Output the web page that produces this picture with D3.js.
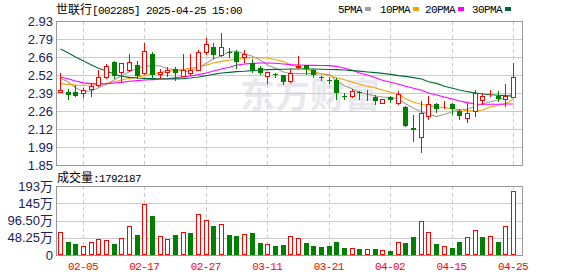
<!DOCTYPE html>
<html>
<head>
<meta charset="utf-8">
<script src="https://cdn.jsdelivr.net/npm/d3@7"></script>
<style>
  body { margin: 0; background: #fff; }
  svg { display: block; }
</style>
</head>
<body>
<svg id="chart" width="578" height="276"></svg>
<script>
//======
// Data
//======

const dates = ["01-23","01-24","01-27","02-05","02-06","02-07","02-10","02-11","02-12","02-13",
  "02-14","02-17","02-18","02-19","02-20","02-21","02-24","02-25","02-26","02-27",
  "02-28","03-03","03-04","03-05","03-06","03-07","03-10","03-11","03-12","03-13",
  "03-14","03-17","03-18","03-19","03-20","03-21","03-24","03-25","03-26","03-27",
  "03-28","03-31","04-01","04-02","04-03","04-07","04-08","04-09","04-10","04-11",
  "04-14","04-15","04-16","04-17","04-18","04-21","04-22","04-23","04-24","04-25"];

const open = [2.40,2.396,2.396,2.392,2.421,2.453,2.511,2.62,2.545,2.56,
  2.597,2.541,2.684,2.535,2.548,2.57,2.52,2.541,2.565,2.701,
  2.734,2.677,2.70,2.694,2.66,2.615,2.575,2.515,2.53,2.523,
  2.478,2.585,2.597,2.56,2.51,2.49,2.486,2.37,2.366,2.395,
  2.392,2.359,2.317,2.362,2.317,2.287,2.13,2.057,2.217,2.305,
  2.285,2.305,2.255,2.205,2.255,2.337,2.38,2.366,2.342,2.362];

const high = [2.54,2.42,2.45,2.429,2.466,2.56,2.607,2.627,2.615,2.684,
  2.627,2.764,2.699,2.57,2.585,2.585,2.684,2.684,2.709,2.801,
  2.764,2.838,2.727,2.714,2.709,2.645,2.595,2.545,2.54,2.525,
  2.57,2.67,2.60,2.57,2.52,2.51,2.503,2.39,2.42,2.404,
  2.41,2.374,2.342,2.37,2.404,2.29,2.223,2.329,2.366,2.312,
  2.33,2.312,2.267,2.312,2.411,2.392,2.411,2.404,2.461,2.615];

const low = [2.40,2.342,2.37,2.359,2.366,2.44,2.50,2.50,2.478,2.555,
  2.50,2.53,2.513,2.50,2.515,2.49,2.515,2.528,2.56,2.684,
  2.652,2.67,2.66,2.578,2.62,2.548,2.53,2.466,2.51,2.459,
  2.475,2.58,2.535,2.508,2.49,2.466,2.342,2.345,2.36,2.342,
  2.34,2.305,2.317,2.325,2.305,2.14,2.031,1.95,2.198,2.247,
  2.28,2.23,2.198,2.173,2.217,2.305,2.366,2.329,2.292,2.36];

const close = [2.41,2.377,2.37,2.416,2.441,2.511,2.595,2.515,2.615,2.62,
  2.515,2.707,2.528,2.545,2.565,2.54,2.565,2.56,2.694,2.759,
  2.677,2.734,2.695,2.622,2.684,2.565,2.54,2.545,2.525,2.474,
  2.541,2.592,2.57,2.523,2.505,2.487,2.387,2.366,2.404,2.388,
  2.392,2.33,2.342,2.337,2.379,2.143,2.113,2.243,2.305,2.267,
  2.288,2.267,2.217,2.243,2.392,2.366,2.385,2.342,2.366,2.511];

// 成交量, 万手
const volume = [63.5,35.5,31.9,26.3,35.5,45.9,41.1,29.9,48.7,82.2,
  55.1,141.8,108.2,54.2,45.9,55.1,65.4,61.5,113.8,97,
  80.3,87.8,55.1,52.3,57.9,61.5,33.6,31.9,24.3,27.1,
  52.3,48.7,33.6,24.3,21.5,24.3,36,18.3,18.3,15.9,
  15.5,17.9,15.1,10.3,35,33.6,49.5,96.2,63,29.9,
  26.3,20.7,35.5,51.5,71,51.5,54.2,35.5,82.2,179.2187];

const ma5 = [2.50,2.47,2.43,2.40,2.405,2.43,2.455,2.49,2.52,2.55,
  2.575,2.59,2.597,2.592,2.572,2.565,2.55,2.555,2.58,2.615,
  2.645,2.67,2.70,2.705,2.685,2.665,2.635,2.60,2.575,2.548,
  2.538,2.535,2.535,2.535,2.533,2.528,2.48,2.445,2.42,2.395,
  2.38,2.368,2.36,2.355,2.345,2.31,2.275,2.25,2.235,2.213,
  2.23,2.25,2.265,2.27,2.29,2.31,2.325,2.34,2.36,2.39];

const ma10 = [2.46,2.455,2.45,2.448,2.45,2.455,2.462,2.475,2.488,2.50,
  2.51,2.52,2.535,2.545,2.552,2.56,2.567,2.575,2.585,2.60,
  2.615,2.627,2.637,2.645,2.652,2.655,2.655,2.652,2.64,2.627,
  2.60,2.585,2.568,2.55,2.535,2.52,2.505,2.49,2.47,2.455,
  2.44,2.428,2.412,2.396,2.382,2.348,2.32,2.305,2.295,2.287,
  2.28,2.272,2.265,2.258,2.255,2.262,2.285,2.298,2.31,2.345];

const ma20 = [2.51,2.495,2.48,2.466,2.46,2.458,2.46,2.465,2.47,2.478,
  2.483,2.488,2.49,2.493,2.497,2.505,2.51,2.518,2.528,2.54,
  2.555,2.57,2.583,2.60,2.607,2.612,2.615,2.615,2.613,2.608,
  2.603,2.60,2.598,2.597,2.596,2.595,2.59,2.575,2.56,2.54,
  2.525,2.505,2.485,2.47,2.455,2.44,2.425,2.41,2.39,2.375,
  2.36,2.345,2.33,2.318,2.308,2.306,2.306,2.306,2.307,2.307];

const ma30 = [2.72,2.69,2.66,2.63,2.60,2.575,2.555,2.53,2.515,2.507,
  2.502,2.50,2.498,2.497,2.496,2.496,2.498,2.502,2.51,2.52,
  2.53,2.54,2.545,2.55,2.553,2.558,2.562,2.565,2.567,2.568,
  2.57,2.57,2.57,2.57,2.568,2.566,2.565,2.562,2.558,2.554,
  2.548,2.543,2.537,2.53,2.52,2.515,2.505,2.495,2.475,2.462,
  2.44,2.425,2.412,2.40,2.39,2.382,2.377,2.373,2.37,2.366];

const priceTickLabels = ["1.85","1.99","2.12","2.26","2.39","2.52","2.66","2.79","2.93"];
const volTickValues = [0, 48.25, 96.5, 144.75, 193];
const volTickLabels = ["0","48.25万","96.50万","145万","193万"];
const dateTicks = ["02-05","02-17","02-27","03-11","03-21","04-02","04-15","04-25"];

const maNames = ["5PMA","10PMA","20PMA","30PMA"];
const maSeries = [ma5, ma10, ma20, ma30];

//========
// Layout
//========

const W = 578, H = 276;
const left = 56, right = 522;
const pTop = 21, pBottom = 165;
const vTop = 186, vBottom = 255;
const step = 7.68;

const RED = "#ff0000", GREEN = "#008000";
const maColors = ["#a0a0a0", "#f5a300", "#ff00ff", "#006b35"];
const gridColor = "#cccccc", borderColor = "#999999";
const labelColor = "#20205a";

const svg = d3.select("#chart");

const x = d3.scaleBand()
  .domain(dates)
  .range([left, left + step * dates.length]);
const cx = d => Math.round(x(d) + x.bandwidth() / 2);

const y = d3.scaleLinear().domain([1.85, 2.93]).range([pBottom, pTop]);
const yv = d3.scaleLinear().domain([0, 193]).range([vBottom, vTop]);

const priceTickValues = priceTickLabels.map((_, k) => 1.85 + k * (2.93 - 1.85) / (priceTickLabels.length - 1));

// watermark
svg.append("text")
  .attr("x", 240).attr("y", 108)
  .attr("fill", "#e8e8ee")
  .style("font-family", "'Noto Sans CJK SC'")
  .style("font-size", "35px")
  .style("font-weight", "bold")
  .text("东方财富");

// grid: horizontal lines
function hGrid(vals, scale) {
  svg.append("g").selectAll("line")
    .data(vals)
    .join("line")
    .attr("x1", left).attr("x2", right)
    .attr("y1", d => Math.round(scale(d)) + 0.5)
    .attr("y2", d => Math.round(scale(d)) + 0.5)
    .attr("stroke", gridColor);
}
hGrid(priceTickValues.slice(1, -1), y);
hGrid(volTickValues.slice(1, -1), yv);

// grid: vertical dashed lines in both panels
[[pTop, pBottom], [vTop, vBottom]].forEach(([t, b]) => {
  svg.append("g").selectAll("line")
    .data(dateTicks)
    .join("line")
    .attr("x1", d => cx(d) + 0.5).attr("x2", d => cx(d) + 0.5)
    .attr("y1", t).attr("y2", b)
    .attr("stroke", gridColor)
    .attr("stroke-dasharray", "4,3");
});

// MA lines
svg.append("clipPath").attr("id", "pclip")
  .append("rect").attr("x", left).attr("y", pTop).attr("width", right - left).attr("height", pBottom - pTop);

const line = d3.line()
  .x((v, i) => cx(dates[i]) + 0.5)
  .y(v => y(v));

svg.append("g").attr("clip-path", "url(#pclip)")
  .selectAll("path")
  .data(maSeries)
  .join("path")
  .attr("d", line)
  .attr("fill", "none")
  .attr("stroke", (d, i) => maColors[i])
  .attr("stroke-width", 1.1);

// candles
const candles = dates.map((d, i) => ({
  d, o: open[i], h: high[i], l: low[i], c: close[i], v: volume[i],
  up: close[i] > open[i] || (close[i] === open[i] && i > 0 && close[i] >= close[i - 1]),
  volUp: i === 0 ? close[i] >= open[i] : close[i] >= close[i - 1]
}));

const cg = svg.append("g");
cg.selectAll("line.wick")
  .data(candles)
  .join("line")
  .attr("class", "wick")
  .attr("x1", k => cx(k.d) + 0.5).attr("x2", k => cx(k.d) + 0.5)
  .attr("y1", k => Math.round(y(k.h))).attr("y2", k => Math.round(y(k.l)) + 1)
  .attr("stroke", k => k.up ? RED : GREEN);

cg.selectAll("rect.body")
  .data(candles)
  .join("rect")
  .attr("class", "body")
  .each(function(k) {
    const yo = Math.round(y(k.o)), yc = Math.round(y(k.c));
    const t = Math.min(yo, yc), b = Math.max(yo, yc);
    const el = d3.select(this);
    if (k.up) {
      el.attr("x", cx(k.d) - 1.5).attr("width", 4)
        .attr("y", t + 0.5).attr("height", Math.max(0, b - t))
        .attr("fill", "#fff").attr("stroke", RED);
    } else {
      el.attr("x", cx(k.d) - 2).attr("width", 5)
        .attr("y", t).attr("height", Math.max(1, b - t))
        .attr("fill", GREEN);
    }
  });

// volume bars
svg.append("g").selectAll("rect")
  .data(candles)
  .join("rect")
  .each(function(k) {
    const t = Math.round(yv(k.v));
    const el = d3.select(this);
    if (k.volUp) {
      el.attr("x", cx(k.d) - 1.5).attr("width", 4)
        .attr("y", t + 0.5).attr("height", vBottom - 1 - t)
        .attr("fill", "#fff").attr("stroke", RED);
    } else {
      el.attr("x", cx(k.d) - 2).attr("width", 5)
        .attr("y", t).attr("height", vBottom - t)
        .attr("fill", GREEN);
    }
  });

// panel borders
[[pTop, pBottom], [vTop, vBottom]].forEach(([t, b]) => {
  svg.append("rect")
    .attr("x", left + 0.5).attr("y", t + 0.5)
    .attr("width", right - left).attr("height", b - t)
    .attr("fill", "none").attr("stroke", borderColor);
});

// axes
const labelFont = "'Liberation Sans', Arial, sans-serif";
function styleAxis(g, color) {
  g.select(".domain").remove();
  g.selectAll("text")
    .attr("fill", color)
    .style("font-family", labelFont)
    .style("font-size", "13px");
}

svg.append("g")
  .attr("transform", `translate(${left - 1},0)`)
  .call(d3.axisLeft(y).tickValues(priceTickValues).tickFormat((d, i) => priceTickLabels[i]).tickSize(0).tickPadding(2))
  .call(g => styleAxis(g, labelColor));

svg.append("g")
  .attr("transform", `translate(${left - 1},0)`)
  .call(d3.axisLeft(yv).tickValues(volTickValues).tickFormat((d, i) => volTickLabels[i]).tickSize(0).tickPadding(2))
  .call(g => styleAxis(g, labelColor))
  .call(g => g.selectAll("text").style("font-family", "'Liberation Sans', 'Noto Sans CJK SC', sans-serif"));

svg.append("g")
  .attr("transform", `translate(0,${vBottom + 5})`)
  .call(d3.axisBottom(x).tickValues(dateTicks).tickSize(0).tickPadding(2))
  .call(g => {
    g.select(".domain").remove();
    g.selectAll("text")
      .attr("fill", RED)
      .style("font-family", "'Liberation Mono', monospace")
      .style("font-size", "11px")
      .style("letter-spacing", "-0.6px");
  });

// header
const monoFont = "'Liberation Mono', monospace";
const cjkFont = "'Noto Sans CJK SC', sans-serif";

const title = svg.append("text").attr("x", left).attr("y", 14).attr("fill", "#000");
title.append("tspan").style("font-family", cjkFont).style("font-size", "12px").text("世联行");
title.append("tspan").style("font-family", monoFont).style("font-size", "11px")
  .style("letter-spacing", "-0.6px").text("[002285] 2025-04-25 15:00");

const lastVol = Math.round(volume[volume.length - 1] * 10000);
const vol = svg.append("text").attr("x", left + 1).attr("y", 182).attr("fill", "#000");
vol.append("tspan").style("font-family", cjkFont).style("font-size", "12px").text("成交量");
vol.append("tspan").style("font-family", monoFont).style("font-size", "11px")
  .style("letter-spacing", "-0.6px").text(":" + lastVol);

// legend
const legendX = [338, 380, 425, 472];
const legend = svg.append("g");
maNames.forEach((name, i) => {
  legend.append("text")
    .attr("x", legendX[i]).attr("y", 13)
    .attr("fill", "#000")
    .style("font-family", monoFont).style("font-size", "11px")
    .style("letter-spacing", "-0.6px")
    .text(name);
  legend.append("rect")
    .attr("x", legendX[i] + name.length * 6 + 3).attr("y", 7)
    .attr("width", 6).attr("height", 4)
    .attr("fill", maColors[i]);
});
</script>
</body>
</html>
